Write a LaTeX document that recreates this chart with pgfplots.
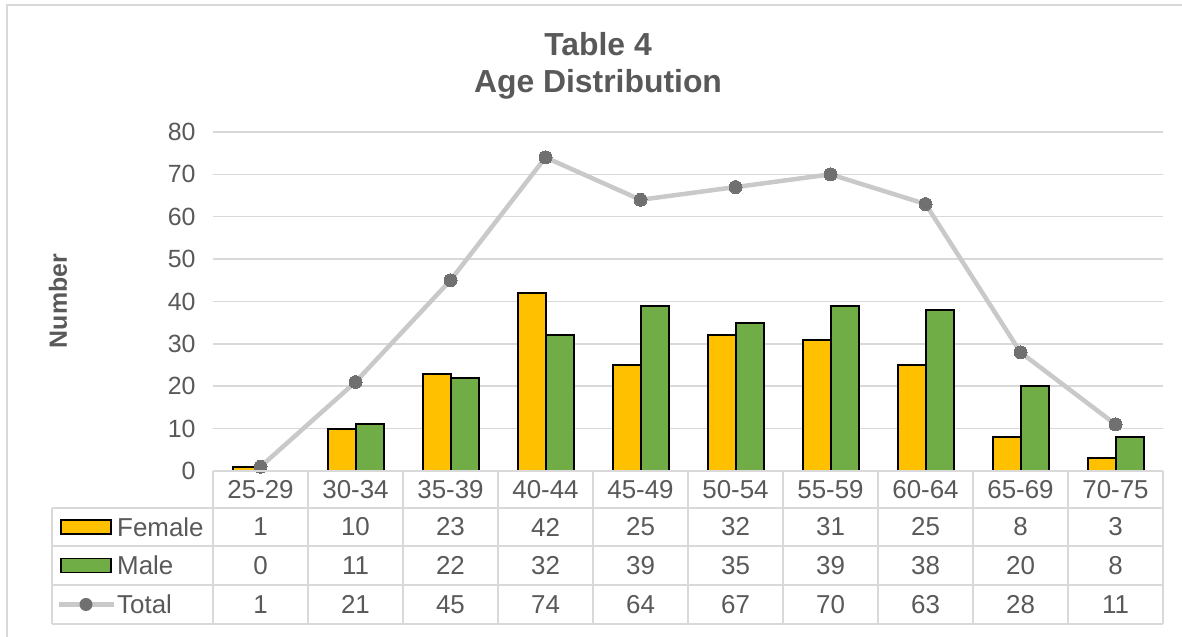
\documentclass[border=0pt]{standalone}
\usepackage{pgfplots}
\usepackage{pgfplotstable}
\pgfplotsset{compat=1.18}
\usepackage{fontspec}
\setmainfont{Liberation Sans}
\definecolor{female}{HTML}{FFC000}
\definecolor{male}{HTML}{70AD47}
\definecolor{totline}{HTML}{C9C9C9}
\definecolor{totmark}{HTML}{707070}
\definecolor{txt}{HTML}{595959}
\definecolor{gridc}{HTML}{D9D9D9}

\pgfplotstableread{
x cat female male total
0 25-29 1 0 1
1 30-34 10 11 21
2 35-39 23 22 45
3 40-44 42 32 74
4 45-49 25 39 64
5 50-54 32 35 67
6 55-59 31 39 70
7 60-64 25 38 63
8 65-69 8 20 28
9 70-75 3 8 11
}\data

\begin{document}
\begin{tikzpicture}[x=1bp,y=1bp]
\useasboundingbox (0,0) rectangle (1182,637);
% outer chart border (left and top visible)
\draw[gridc, line width=2bp] (7,-5) -- (7,632) -- (1190,632);
% title
\node[txt, font=\fontsize{32}{37}\selectfont\bfseries, align=center] at (598,571) {Table 4\\Age Distribution};
% y axis title
\node[txt, font=\fontsize{25}{29}\selectfont\bfseries, rotate=90] at (58,336) {Number};

\begin{axis}[
  at={(213bp,166bp)}, anchor=south west,
  width=950bp, height=339bp, scale only axis,
  xmin=-0.5, xmax=9.5, ymin=0, ymax=80,
  ytick={0,10,...,80}, xtick=\empty,
  ymajorgrids, grid style={gridc, line width=1.5bp},
  axis line style={draw=none}, tick style={draw=none},
  yticklabel style={txt, font=\fontsize{25}{29}\selectfont, xshift=-14bp},
  /pgf/number format/assume math mode=true,
  clip=false,
  ybar=0pt, bar width=28bp,
  unbounded coords=discard,
]
\addplot[bar shift=-14bp, fill=female, draw=black, line width=2bp] table[x=x, y=female]{\data};
\addplot[bar shift=14bp, fill=male, draw=black, line width=2bp, y filter/.expression={y==0 ? nan : y}] table[x=x, y=male]{\data};
\addplot[sharp plot, totline, line width=4.5bp, mark=*, mark size=6.5bp, mark options={fill=totmark, draw=totmark, line width=0pt}] table[x=x, y=total]{\data};
\end{axis}

% data table grid
\begin{scope}[gridc, line width=2bp]
\draw (213,166) -- (1163,166);
\foreach \yy in {129,91,52,13} \draw (52,\yy) -- (1163,\yy);
\foreach \i in {0,...,10} \draw (213+95*\i,166) -- (213+95*\i,13);
\draw (52,129) -- (52,13);
\end{scope}
% legend keys
\fill[female, draw=black, line width=1.5bp] (61,103) rectangle (111,117);
\fill[male, draw=black, line width=1.5bp] (61,64.5) rectangle (111,78.5);
\draw[totline, line width=4.5bp] (59,32.5) -- (114,32.5);
\fill[totmark] (86,32.5) circle (6.5);
\begin{scope}[txt, font=\fontsize{26}{30}\selectfont]
\node[anchor=west, inner sep=0pt] at (117,110) {Female};
\node[anchor=west, inner sep=0pt] at (117,71.5) {Male};
\node[anchor=west, inner sep=0pt] at (117,32.5) {Total};
\foreach \i in {0,...,9}{
  \pgfmathsetmacro{\cx}{260.5+95*\i}
  \pgfplotstablegetelem{\i}{cat}\of\data
  \node at (\cx,147.5) {\pgfplotsretval};
  \pgfplotstablegetelem{\i}{female}\of\data
  \node at (\cx,110) {\pgfplotsretval};
  \pgfplotstablegetelem{\i}{male}\of\data
  \node at (\cx,71.5) {\pgfplotsretval};
  \pgfplotstablegetelem{\i}{total}\of\data
  \node at (\cx,32.5) {\pgfplotsretval};
}
\end{scope}
\end{tikzpicture}
\end{document}
